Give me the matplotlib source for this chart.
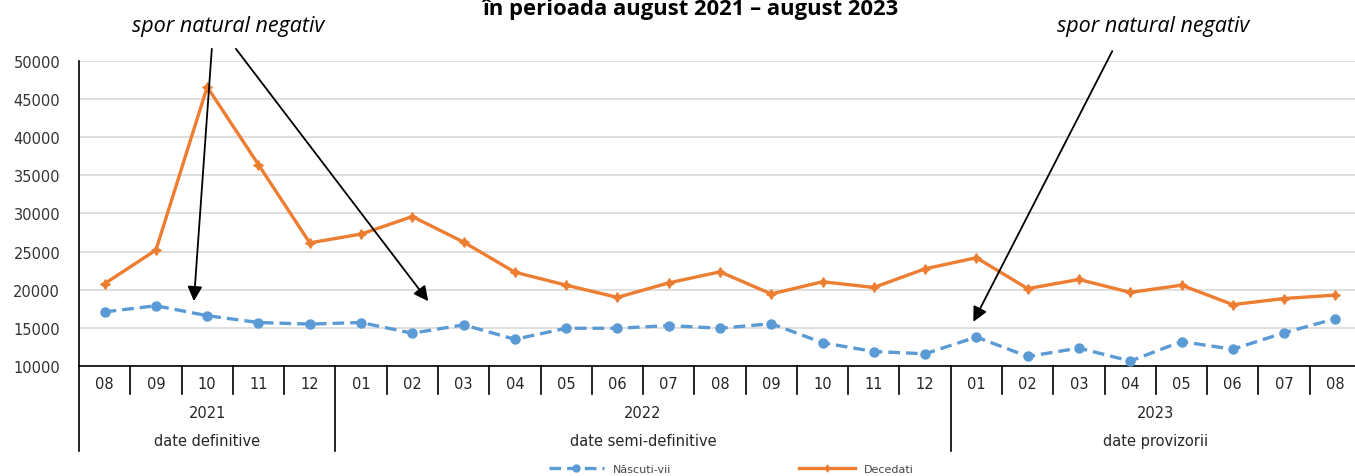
import matplotlib
matplotlib.use("Agg")
import matplotlib.pyplot as plt
from matplotlib.lines import Line2D

# ---------------- data ----------------
months = ["08", "09", "10", "11", "12",
          "01", "02", "03", "04", "05", "06", "07", "08", "09", "10", "11", "12",
          "01", "02", "03", "04", "05", "06", "07", "08"]
years = ["2021", "2022", "2023"]
year_spans = [(0, 5), (5, 17), (17, 25)]
status = ["date definitive", "date semi-definitive", "date provizorii"]

nascuti_vii = [17100, 17900, 16600, 15700, 15500,
               15700, 14300, 15400, 13500, 14950, 14950, 15300, 14950, 15550, 13050, 11900, 11600,
               13800, 11250, 12350, 10650, 13200, 12200, 14350, 16200]
decedati = [20800, 25200, 46600, 36400, 26150,
            27300, 29600, 26250, 22300, 20600, 19000, 20900, 22350, 19450, 21050, 20300, 22750,
            24200, 20150, 21350, 19650, 20600, 18050, 18850, 19300]

title_line = "în perioada august 2021 \u2013 august 2023"
annot_text = "spor natural negativ"
series_names = ["Născuti-vii", "Decedati"]

# ---------------- figure ----------------
W, H = 1355, 477
fig = plt.figure(figsize=(W / 100, H / 100), dpi=100)
plt.rcParams['font.family'] = ['DejaVu Sans']
OPEN = ['Open Sans', 'DejaVu Sans']

x0, x1 = 79, 1361
y_top, y_bot = 62, 367
ax = fig.add_axes([x0 / W, 1 - y_bot / H, (x1 - x0) / W, (y_bot - y_top) / H])

n = len(months)
xs = list(range(n))
blue = "#5B9BD5"
orange = "#ED7D31"
txtc = "#262626"

ax.plot(xs, decedati, color=orange, lw=2.4, marker=(4, 1, 0), ms=7,
        mec=orange, mfc=orange, label=series_names[1], zorder=3)
ax.plot(xs, nascuti_vii, color=blue, lw=2.4, ls=(0, (3.5, 1.8)), marker='o', ms=6.5,
        mec=blue, mfc=blue, label=series_names[0], zorder=3)

ax.set_xlim(-0.5, n - 0.5)
ax.set_ylim(10000, 50000)
ax.set_yticks(range(10000, 50001, 5000))
ax.tick_params(axis='y', length=0, labelsize=10.5, labelcolor="#333333", pad=13.5)
ax.set_xticks([])
ax.grid(axis='y', color="#d9d9d9", lw=1.2)
ax.set_axisbelow(True)
for s in ["top", "right"]:
    ax.spines[s].set_visible(False)
ax.spines["left"].set_color("black")
ax.spines["left"].set_linewidth(1.2)
ax.spines["bottom"].set_color("black")
ax.spines["bottom"].set_linewidth(1.2)

# ---------------- multi-level axis ----------------
tr = ax.get_xaxis_transform()
def fy(py):
    return (y_bot - py) / (y_bot - y_top)

for i, m in enumerate(months):
    ax.text(i, fy(385), m, transform=tr, ha='center', va='center',
            fontsize=10.5, color=txtc)
for k in range(n):
    big = k in (0, 5, 17)
    ax.add_line(Line2D([k - 0.5, k - 0.5], [0, fy(452 if big else 395)],
                       transform=tr, color="black", lw=1.2, clip_on=False))
for (a, b), yr, st in zip(year_spans, years, status):
    c = (a + b - 1) / 2
    ax.text(c, fy(414), yr, transform=tr, ha='center', va='center',
            fontsize=10.5, color=txtc)
    ax.text(c, fy(442), st, transform=tr, ha='center', va='center',
            fontsize=10.5, color=txtc)

# ---------------- annotations ----------------
ap = dict(arrowstyle='-|>', mutation_scale=22, lw=1.3, color='black',
          shrinkA=0, shrinkB=0)
ax.annotate("", xy=(1.74, 18500), xytext=(2.09, 51600), arrowprops=ap,
            annotation_clip=False)
ax.annotate("", xy=(6.31, 18500), xytext=(2.56, 51600), arrowprops=ap,
            annotation_clip=False)
ax.annotate("", xy=(16.94, 15800), xytext=(19.65, 51300), arrowprops=ap,
            annotation_clip=False)
ax.text(2.41, 54700, annot_text, ha='center', va='center', fontsize=15.5,
        style='italic', clip_on=False, family=OPEN)
ax.text(20.45, 54700, annot_text, ha='center', va='center', fontsize=15.5,
        style='italic', clip_on=False, family=OPEN)

fig.text(690 / W, 1 - 15 / H, title_line, ha='center', va='baseline',
         fontsize=15.8, fontweight='bold', family=OPEN)

# ---------------- legend ----------------
h1 = Line2D([], [], color=blue, lw=2.4, ls=(0, (3.5, 1.8)), marker='o', ms=5)
h2 = Line2D([], [], color=orange, lw=2.4, marker=(4, 1, 0), ms=5)
fig.legend([h1, h2], series_names, loc='center', bbox_to_anchor=(731 / W, 1 - 470 / H),
           ncol=2, frameon=False, fontsize=8, handlelength=5, columnspacing=11.5,
           handletextpad=0.8, labelcolor="#444444")

fig.savefig("out.png", dpi=100)
